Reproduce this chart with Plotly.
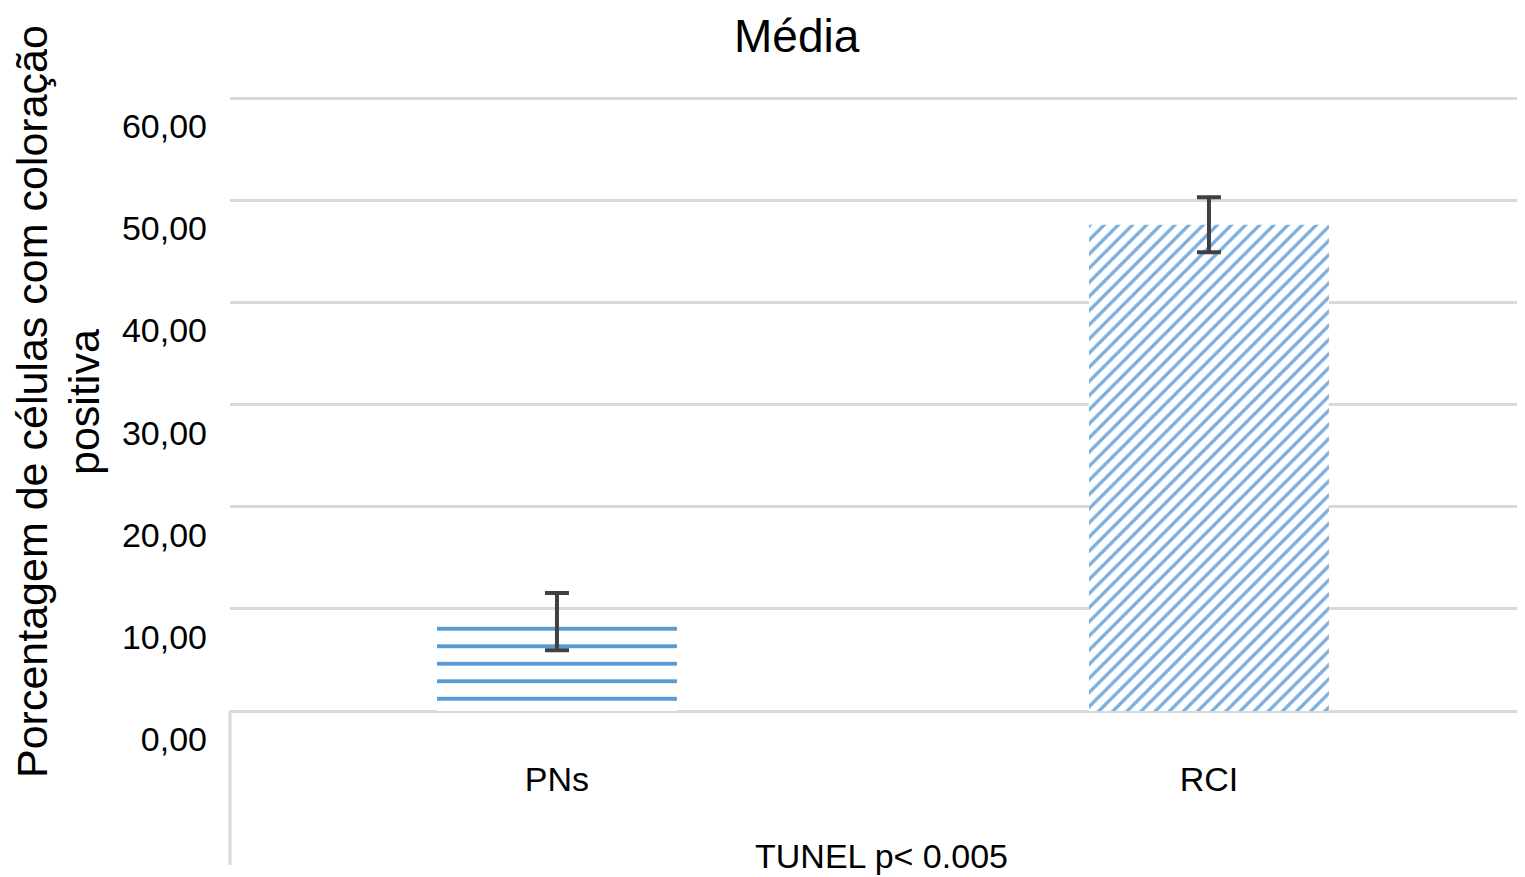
import plotly.graph_objects as go

categories = ["PNs", "RCI"]
means = [8.76, 47.6]
errors = [2.8, 2.7]
y_tick_values = [0, 10, 20, 30, 40, 50, 60]
y_tick_labels = ["0,00", "10,00", "20,00", "30,00", "40,00", "50,00", "60,00"]
patterns = ["-", "/"]
pattern_colors = ["#5b9bd5", "#7aaee0"]
y_title_lines = ["Porcentagem de células com coloração", "positiva"]
chart_title = "Média"

FONT = "Liberation Sans, Arial, sans-serif"
Y_MIN, Y_MAX = -15.07, 60.3
LABEL_SHIFT = 2.75
PLOT_W, PLOT_H, ML, MT = 1303, 770, 222, 87

fig = go.Figure()
for cat, m, e, p, c in zip(categories, means, errors, patterns, pattern_colors):
    is_h = p == "-"
    fig.add_trace(go.Bar(
        x=[cat], y=[m], width=0.368,
        marker=dict(
            color="white",
            line=dict(width=0),
            pattern=dict(shape=p, fillmode="replace", bgcolor="white",
                         fgcolor=c,
                         size=17.5 if is_h else 10,
                         solidity=0.22 if is_h else 0.33),
        ),
        error_y=dict(type="data", array=[e], color="#404040", thickness=4, width=12),
        showlegend=False,
    ))

fig.add_shape(type="line", xref="paper", yref="y", x0=0, x1=0, y0=Y_MIN, y1=0,
              line=dict(color="#d9d9d9", width=3), layer="below")

for line, cx in zip(y_title_lines, [24, 76]):
    fig.add_annotation(
        text=line,
        xref="paper", yref="paper", x=(cx - ML) / PLOT_W, xanchor="center",
        y=1 - (394 - MT) / PLOT_H, yanchor="middle",
        textangle=-90, showarrow=False, font=dict(size=43, family=FONT, color="black"),
    )

fig.add_annotation(
    text=chart_title,
    xref="paper", yref="paper", x=(789 - ML) / PLOT_W, xanchor="center",
    y=1 + (MT - 0) / PLOT_H, yanchor="top",
    showarrow=False, font=dict(size=46, family=FONT, color="black"),
)

fig.update_layout(
    width=1525, height=877,
    margin=dict(l=ML, r=0, t=MT, b=20),
    paper_bgcolor="white", plot_bgcolor="white",
    font=dict(family=FONT, size=34, color="black"),
    xaxis=dict(
        range=[-0.5015, 1.497], anchor="free", position=(0 - Y_MIN) / (Y_MAX - Y_MIN),
        showgrid=False, showline=False, zeroline=False, ticks="",
        ticklabelstandoff=45,
        title=dict(text="TUNEL p< 0.005", standoff=47, font=dict(size=34)),
        tickfont=dict(size=34),
    ),
    yaxis=dict(
        range=[Y_MIN, Y_MAX],
        tickmode="array",
        tickvals=[v - LABEL_SHIFT for v in y_tick_values],
        ticktext=y_tick_labels,
        showgrid=False, zeroline=False, showline=False, ticks="",
        ticklabelstandoff=22,
        tickfont=dict(size=34),
        minor=dict(tickmode="array", tickvals=y_tick_values, showgrid=True,
                   gridcolor="#d9d9d9", gridwidth=3, ticks=""),
    ),
)

fig.write_html("out.html")
